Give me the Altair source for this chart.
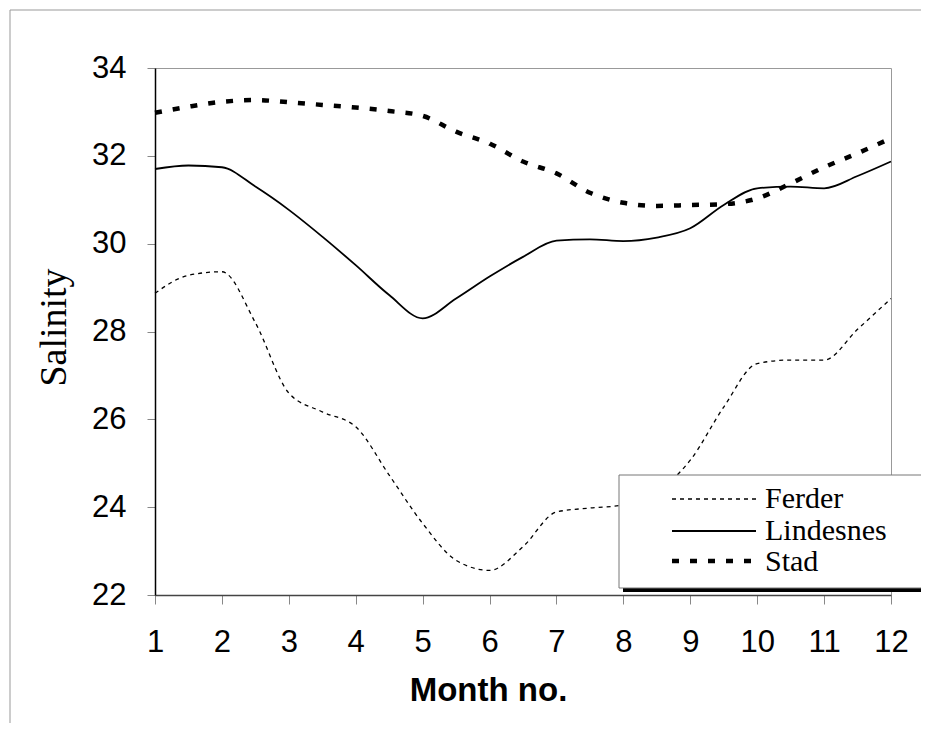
import altair as alt
import pandas as pd

# ---- data ----
months = [1, 1.5, 2, 2.5, 3, 3.5, 4, 4.5, 5, 5.5, 6, 6.5, 7, 7.5, 8, 8.5, 9, 9.5, 10, 10.5, 11, 11.5, 12]
ferder = [28.87, 29.28, 29.36, 28.2, 26.6, 26.17, 25.83, 24.73, 23.63, 22.79, 22.56, 23.10,
          23.89, 23.98, 24.05, 24.35, 25.07, 26.28, 27.27, 27.35, 27.35, 28.05, 28.75]
lindesnes = [31.70, 31.78, 31.74, 31.30, 30.77, 30.16, 29.51, 28.83, 28.30, 28.75, 29.25, 29.70,
             30.07, 30.10, 30.06, 30.14, 30.35, 30.88, 31.26, 31.30, 31.26, 31.54, 31.87]
stad = [32.98, 33.12, 33.23, 33.27, 33.22, 33.16, 33.10, 33.02, 32.91, 32.55, 32.28, 31.87,
        31.60, 31.16, 30.93, 30.86, 30.88, 30.90, 31.03, 31.37, 31.74, 32.06, 32.40]
series_names = ["Ferder", "Lindesnes", "Stad"]
x_ticks = [1, 2, 3, 4, 5, 6, 7, 8, 9, 10, 11, 12]
y_ticks = [22, 24, 26, 28, 30, 32, 34]

df = pd.DataFrame({
    "month": months * 3,
    "salinity": ferder + lindesnes + stad,
    "series": [series_names[0]] * len(months) + [series_names[1]] * len(months) + [series_names[2]] * len(months),
})
dummy = pd.DataFrame({"a": [0]})

SANS = "Liberation Sans"
SERIF = "Liberation Serif"

x_enc = alt.X(
    "month:Q",
    scale=alt.Scale(domain=[1, 12], nice=False, zero=False),
    axis=alt.Axis(
        values=x_ticks, format="d", title="Month no.", grid=False, labelFlush=False,
        labelFont=SANS, labelFontSize=31, labelColor="black", labelPadding=23,
        tickSize=9, tickColor="#888", domainColor="#444", domainWidth=1.5,
        titleFont=SANS, titleFontSize=33, titleFontWeight="bold", titleColor="black",
        titleX=333, titleY=95, titleBaseline="middle", titleAlign="center",
    ),
)
y_enc = alt.Y(
    "salinity:Q",
    scale=alt.Scale(domain=[22, 34], nice=False, zero=False),
    axis=alt.Axis(
        values=y_ticks, format="d", title="Salinity", grid=False, labelFlush=False,
        labelFont=SANS, labelFontSize=31, labelColor="black", labelPadding=21,
        tickSize=8, tickColor="#888", domainColor="black", domainWidth=1.5,
        titleFont=SERIF, titleFontSize=38, titleFontWeight="normal", titleColor="black",
        titleX=-101, titleY=259, titleAngle=270, titleBaseline="middle", titleAlign="center",
    ),
)

styles = {
    "Ferder": dict(strokeWidth=1.3, strokeDash=[4, 4]),
    "Lindesnes": dict(strokeWidth=1.8),
    "Stad": dict(strokeWidth=4.5, strokeDash=[7, 11]),
}

frame = alt.Chart(dummy).mark_rect(fillOpacity=0, stroke="#999", strokeWidth=1).encode(
    x=alt.value(-145), x2=alt.value(800), y=alt.value(-58), y2=alt.value(720)
)

layers = [frame]
for name in series_names:
    layers.append(
        alt.Chart(df).transform_filter(alt.datum.series == name)
        .mark_line(interpolate="monotone", color="black", **styles[name])
        .encode(x=x_enc, y=y_enc)
    )

# legend box with shadow
shadow = alt.Chart(dummy).mark_rect(fill="black").encode(
    x=alt.value(468), x2=alt.value(800), y=alt.value(517), y2=alt.value(524)
)
box = alt.Chart(dummy).mark_rect(fill="white", stroke="#777", strokeWidth=1).encode(
    x=alt.value(464), x2=alt.value(800), y=alt.value(407), y2=alt.value(520)
)
layers += [shadow, box]

leg_y = [431, 463, 493]
txt_y = [440, 472, 503]
for i, name in enumerate(series_names):
    layers.append(
        alt.Chart(dummy).mark_rule(color="black", **styles[name]).encode(
            x=alt.value(517), x2=alt.value(601), y=alt.value(leg_y[i])
        )
    )
    layers.append(
        alt.Chart(dummy).mark_text(font=SERIF, fontSize=30, align="left", baseline="alphabetic", color="black").encode(
            x=alt.value(610), y=alt.value(txt_y[i]), text=alt.value(name)
        )
    )

chart = alt.layer(*layers).properties(
    width=736, height=527,
    autosize=alt.AutoSizeParams(type="none"),
    padding={"left": 147, "top": 60, "right": 30, "bottom": 128},
    background="white",
).configure_view(stroke="#999", strokeWidth=1)

chart.save("out.html", embed_options={"renderer": "svg", "actions": False})
